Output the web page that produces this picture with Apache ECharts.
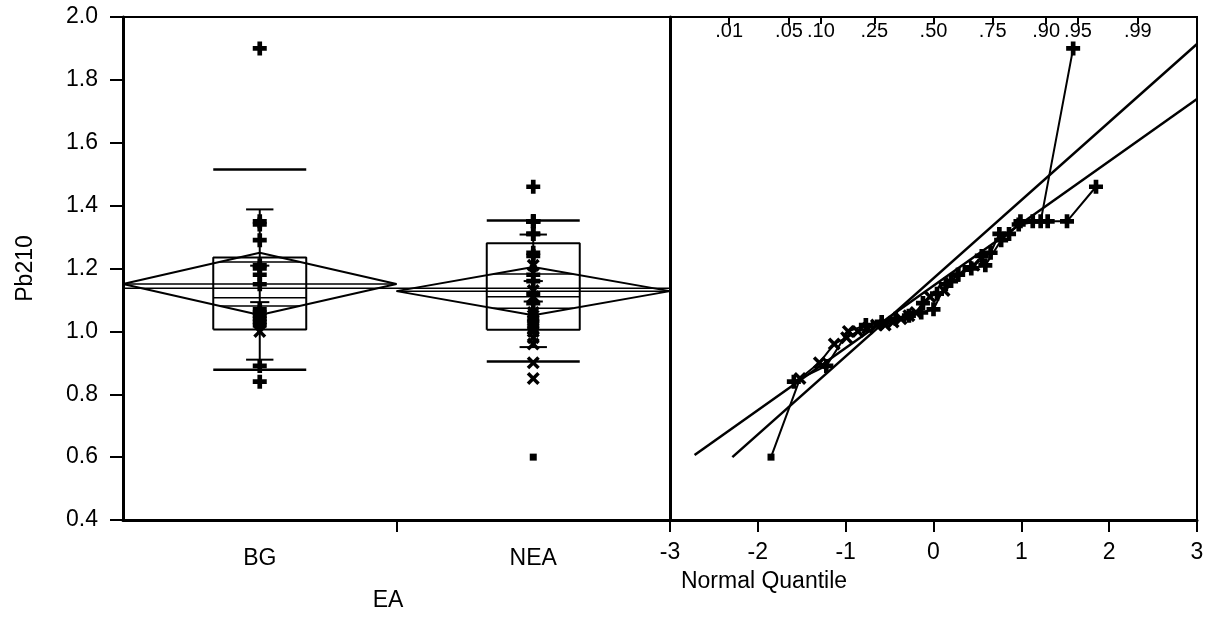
<!DOCTYPE html>
<html>
<head>
<meta charset="utf-8">
<script src="https://cdn.jsdelivr.net/npm/echarts@6/dist/echarts.min.js"></script>
<style>
html, body { margin: 0; padding: 0; background: #fff; }
#chart { width: 1211px; height: 628px; }
</style>
</head>
<body>
<div id="chart"></div>
<script>
// groups of EA
var groups = ['BG', 'NEA']

// Pb210 values per group, sorted, with normal quantile and marker kind (p = plus, x = cross, s = square)
var bgValues = [0.84, 0.89, 1.00, 1.02, 1.03, 1.04, 1.05, 1.06, 1.07, 1.15, 1.18, 1.20, 1.21, 1.29, 1.34, 1.35, 1.90]
var bgQuantiles = [-1.59, -1.22, -0.97, -0.77, -0.59, -0.43, -0.28, -0.14, 0, 0.14, 0.28, 0.43, 0.59, 0.77, 0.97, 1.22, 1.59]
var bgMarks = ['p', 'p', 'x', 'p', 'p', 'p', 'p', 'p', 'p', 'p', 'p', 'p', 'p', 'p', 'p', 'p', 'p']

var neaValues = [0.60, 0.85, 0.90, 0.96, 0.98, 1.00, 1.01, 1.02, 1.02, 1.03, 1.04, 1.05, 1.06, 1.09, 1.11,
    1.12, 1.13, 1.16, 1.18, 1.20, 1.21, 1.24, 1.25, 1.31, 1.31, 1.35, 1.35, 1.35, 1.35, 1.46]
var neaQuantiles = [-1.85, -1.52, -1.30, -1.13, -0.99, -0.86, -0.75, -0.65, -0.55, -0.46, -0.37, -0.28, -0.20, -0.12, -0.04,
    0.04, 0.12, 0.20, 0.28, 0.37, 0.46, 0.55, 0.65, 0.75, 0.86, 0.99, 1.13, 1.30, 1.52, 1.85]
var neaMarks = ['s', 'x', 'x', 'x', 'x', 'x', 'x', 'x', 'x', 'x', 'x', 'x', 'x', 'p', 'x',
    'p', 'x', 'p', 'p', 's', 'x', 'p', 'p', 'p', 'p', 'p', 'p', 'p', 'p', 'p']

// summaries, BG then NEA
var boxLow = [1.006, 1.005]
var boxHigh = [1.235, 1.28]
var medians = [1.107, 1.11]
var pct10 = [0.878, 0.904]
var pct90 = [1.515, 1.353]
var means = [1.151, 1.128]
var ciHalf = [0.099, 0.077]
var sdLow = [0.91, 0.95]
var sdHigh = [1.388, 1.308]
var seLow = [1.093, 1.095]
var seHigh = [1.209, 1.16]
var grandMean = 1.137

// normal quantile plot reference lines (quantile, value)
var fitBG = [[-2.29, 0.60], [3, 1.914]]
var fitNEA = [[-2.72, 0.607], [3, 1.739]]

// probability scale on top of the quantile plot
var probLabels = ['.01', '.05', '.10', '.25', '.50', '.75', '.90', '.95', '.99']
var probQuantiles = [-2.326, -1.645, -1.282, -0.674, 0, 0.674, 1.282, 1.645, 2.326]

var FONT = 'Liberation Sans'
var PLUS = 'path://M3,0H6V3H9V6H6V9H3V6H0V3H3Z'
var CROSS = 'path://M0,1.7L1.7,0L4.5,2.8L7.3,0L9,1.7L6.2,4.5L9,7.3L7.3,9L4.5,6.2L1.7,9L0,7.3L2.8,4.5Z'
var symbols = { p: PLUS, x: CROSS, s: 'rect' }
var sizes = { p: 14, x: 13, s: 7 }

var chart = echarts.init(document.getElementById('chart'))

function seg(pts, grid, width) {
    return {
        type: 'line',
        xAxisIndex: grid === 0 ? 0 : 1,
        yAxisIndex: grid,
        data: pts,
        symbol: 'none',
        silent: true,
        animation: false,
        lineStyle: { color: '#000', width: width || 2 },
        z: 3
    }
}

function markerData(xs, vals, marks) {
    return vals.map(function (v, i) {
        return {
            value: [Array.isArray(xs) ? xs[i] : xs, v],
            symbol: symbols[marks[i]],
            symbolSize: sizes[marks[i]]
        }
    })
}

var series = []
var valueSets = [bgValues, neaValues]
var markSets = [bgMarks, neaMarks]

groups.forEach(function (g, k) {
    var x0 = k, x1 = k + 1, xc = k + 0.5
    var bw = 0.17, ow = 0.146, cap = 0.05, scap = 0.035
    var m = means[k], c = ciHalf[k]
    // means diamond
    series.push(seg([[x0, m], [xc, m + c], [x1, m], [xc, m - c], [x0, m]], 0, 2))
    series.push(seg([[x0, m], [x1, m]], 0, 1.5))
    // overlap marks
    series.push(seg([[xc - ow, m + c * 0.707], [xc + ow, m + c * 0.707]], 0, 1.5))
    series.push(seg([[xc - ow, m - c * 0.707], [xc + ow, m - c * 0.707]], 0, 1.5))
    // box
    series.push(seg([[xc - bw, boxLow[k]], [xc + bw, boxLow[k]], [xc + bw, boxHigh[k]],
        [xc - bw, boxHigh[k]], [xc - bw, boxLow[k]]], 0, 2))
    series.push(seg([[xc - bw, medians[k]], [xc + bw, medians[k]]], 0, 1.5))
    // 10% / 90%
    series.push(seg([[xc - bw, pct10[k]], [xc + bw, pct10[k]]], 0, 2.5))
    series.push(seg([[xc - bw, pct90[k]], [xc + bw, pct90[k]]], 0, 2.5))
    // std dev bar and mean error caps
    series.push(seg([[xc, sdLow[k]], [xc, sdHigh[k]]], 0, 2))
    series.push(seg([[xc - cap, sdLow[k]], [xc + cap, sdLow[k]]], 0, 2))
    series.push(seg([[xc - cap, sdHigh[k]], [xc + cap, sdHigh[k]]], 0, 2))
    series.push(seg([[xc - scap, seLow[k]], [xc + scap, seLow[k]]], 0, 2))
    series.push(seg([[xc - scap, seHigh[k]], [xc + scap, seHigh[k]]], 0, 2))
    // points
    series.push({
        type: 'scatter',
        xAxisIndex: 0,
        yAxisIndex: 0,
        data: markerData(xc, valueSets[k], markSets[k]),
        itemStyle: { color: '#000', opacity: 1 },
        animation: false,
        z: 4
    })
})

// grand mean
series.push(seg([[0, grandMean], [2, grandMean]], 0, 1.5))

// quantile plot
series.push(seg(fitBG, 1, 2.5))
series.push(seg(fitNEA, 1, 2.5))
;[[bgQuantiles, bgValues, bgMarks], [neaQuantiles, neaValues, neaMarks]].forEach(function (s) {
    series.push({
        type: 'line',
        xAxisIndex: 1,
        yAxisIndex: 1,
        data: markerData(s[0], s[1], s[2]),
        showSymbol: true,
        showAllSymbol: true,
        itemStyle: { color: '#000', opacity: 1 },
        lineStyle: { color: '#000', width: 2 },
        animation: false,
        z: 4
    })
})

var axisText = { color: '#000', fontFamily: FONT, fontSize: 23 }

var option = {
    backgroundColor: '#fff',
    grid: [
        { left: 123, top: 17, width: 547, bottom: 108, show: true, borderColor: '#000', borderWidth: 2 },
        { left: 670, top: 17, width: 527, bottom: 108, show: true, borderColor: '#000', borderWidth: 2 }
    ],
    xAxis: [
        {
            gridIndex: 0, type: 'value', min: 0, max: 2,
            axisLine: { onZero: false, lineStyle: { color: '#000', width: 3 } },
            axisTick: { customValues: [1], length: 12, lineStyle: { color: '#000', width: 2 } },
            axisLabel: Object.assign({ customValues: [0.5, 1.5], margin: 27,
                formatter: function (v) { return groups[Math.floor(v)] } }, axisText),
            splitLine: { show: false }
        },
        {
            gridIndex: 1, type: 'value', min: -3, max: 3, interval: 1,
            axisLine: { onZero: false, lineStyle: { color: '#000', width: 3 } },
            axisTick: { length: 12, lineStyle: { color: '#000', width: 2 } },
            axisLabel: Object.assign({ margin: 21 }, axisText),
            splitLine: { show: false }
        },
        {
            gridIndex: 1, type: 'value', min: -3, max: 3, position: 'top',
            axisLine: { show: false, onZero: false },
            axisTick: { inside: true, length: 7, customValues: probQuantiles, lineStyle: { color: '#000', width: 2 } },
            axisLabel: Object.assign({ inside: true, margin: 4, customValues: probQuantiles,
                formatter: function (v) { return probLabels[probQuantiles.indexOf(v)] } }, axisText, { fontSize: 20 }),
            splitLine: { show: false }
        }
    ],
    yAxis: [
        {
            gridIndex: 0, type: 'value', min: 0.4, max: 2.0, interval: 0.2,
            name: 'Pb210', nameLocation: 'middle', nameGap: 86, nameRotate: 90,
            nameTextStyle: axisText,
            axisLine: { show: true, onZero: false, lineStyle: { color: '#000', width: 3 } },
            axisTick: { show: true, length: 13, lineStyle: { color: '#000', width: 2 } },
            axisLabel: Object.assign({ margin: 25, formatter: function (v) { return v.toFixed(1) } }, axisText),
            splitLine: { show: false }
        },
        {
            gridIndex: 1, type: 'value', min: 0.4, max: 2.0, interval: 0.2,
            axisLine: { show: true, onZero: false, lineStyle: { color: '#000', width: 3 } },
            axisTick: { show: false },
            axisLabel: { show: false },
            splitLine: { show: false }
        }
    ],
    graphic: [
        { type: 'text', x: 388, y: 601,
            style: { text: 'EA', font: '23px "Liberation Sans"', fill: '#000', align: 'center', verticalAlign: 'middle' } },
        { type: 'text', x: 764, y: 582,
            style: { text: 'Normal Quantile', font: '23px "Liberation Sans"', fill: '#000', align: 'center', verticalAlign: 'middle' } }
    ],
    series: series
}
chart.setOption(option)
</script>
</body>
</html>
